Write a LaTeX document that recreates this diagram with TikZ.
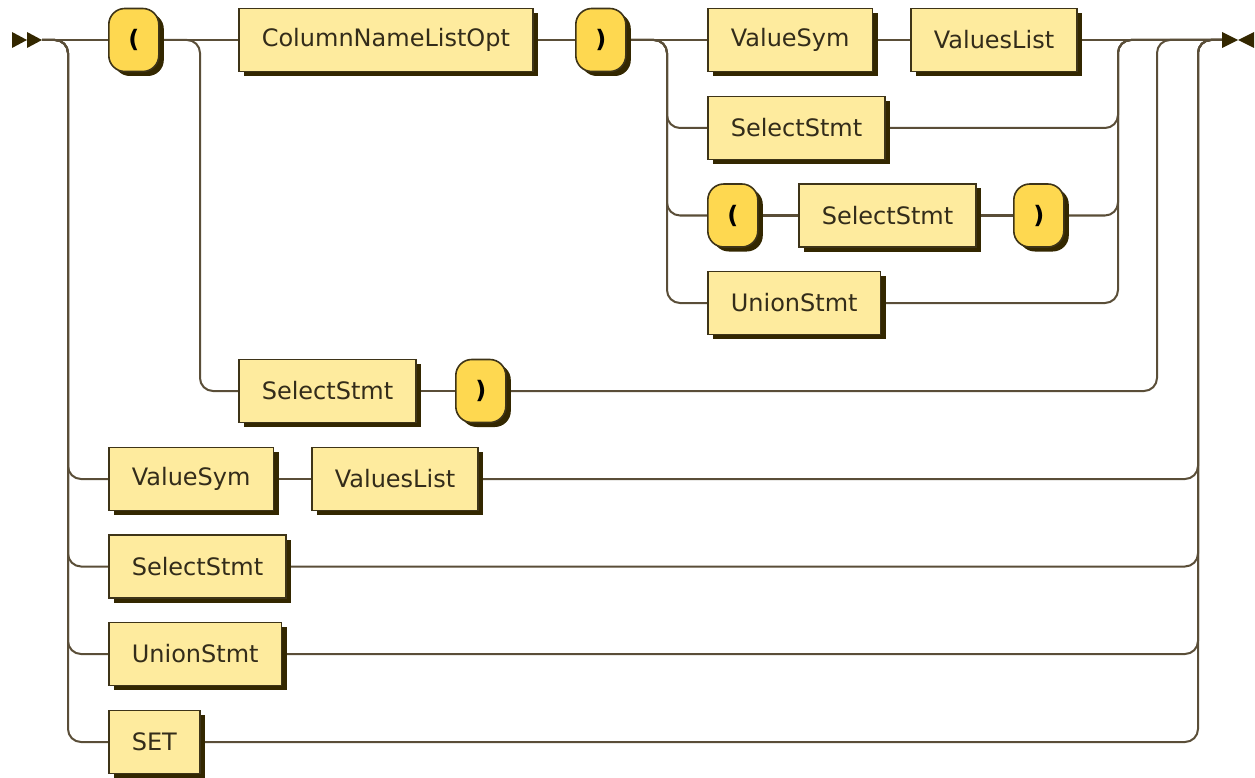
\documentclass[tikz,border=0pt]{standalone}
\usepackage{fontspec}
\setmainfont{DejaVu Sans}
\usetikzlibrary{shadows,backgrounds}
\definecolor{ntfill}{HTML}{FEEB9E}
\definecolor{tfill}{HTML}{FED850}
\definecolor{boxline}{HTML}{3E3418}
\definecolor{shadowc}{HTML}{332700}
\definecolor{wire}{HTML}{5A4E38}
\definecolor{txt}{HTML}{332C1A}
\tikzset{
  nonterm/.style={draw=boxline, fill=ntfill, line width=1.6pt, anchor=west,
    minimum height=63pt, inner xsep=23pt, text=txt,
    font=\fontsize{24}{28}\selectfont,
    drop shadow={shadow xshift=5pt, shadow yshift=-4.5pt, fill=shadowc, opacity=1}},
  term/.style={draw=boxline, fill=tfill, line width=1.6pt, anchor=west,
    minimum height=63pt, minimum width=50pt, inner xsep=0pt, rounded corners=16pt,
    text=black, font=\fontsize{24}{28}\selectfont\bfseries,
    drop shadow={shadow xshift=5pt, shadow yshift=-4.5pt, fill=shadowc, opacity=1}},
  wirestyle/.style={draw=wire, line width=2pt, rounded corners=13pt},
  marker/.style={fill=shadowc, draw=none}
}
\begin{document}
\begin{tikzpicture}[x=1pt,y=-1pt]
\useasboundingbox (0,0) rectangle (1255,778);
% nodes
\node[term]    (lp1) at (108,40)    {(};
\node[nonterm] (cnl) at (238,40)    {ColumnNameListOpt};
\node[term]    (rp1) at (575,40)    {)};
\node[nonterm] (vs1) at (707,40)    {ValueSym};
\node[nonterm] (vl1) at (910,40)    {ValuesList};
\node[nonterm] (ss1) at (707,128)   {SelectStmt};
\node[term]    (lp2) at (707,215.5) {(};
\node[nonterm] (ss2) at (798,215.5) {SelectStmt};
\node[term]    (rp2) at (1013,215.5){)};
\node[nonterm] (us1) at (707,303)   {UnionStmt};
\node[nonterm] (ss3) at (238,391)   {SelectStmt};
\node[term]    (rp3) at (455,391)   {)};
\node[nonterm] (vs2) at (108,479)   {ValueSym};
\node[nonterm] (vl2) at (311,479)   {ValuesList};
\node[nonterm] (ss4) at (108,566.5) {SelectStmt};
\node[nonterm] (us2) at (108,654)   {UnionStmt};
\node[nonterm] (set) at (108,742)   {SET};
% start / end points and junctions
\coordinate (s) at (42,40);
\coordinate (e) at (1222,40);
\coordinate (ja) at (68,40);
\coordinate (jb) at (200,40);
\coordinate (jc) at (667,40);
\coordinate (kc) at (1118,40);
\coordinate (kb) at (1157,40);
\coordinate (ka) at (1198,40);
% markers
\fill[marker] (12,32) -- (27,40) -- (12,48) -- cycle;
\fill[marker] (27,32) -- (42,40) -- (27,48) -- cycle;
\fill[marker] (1222,32) -- (1238,40) -- (1222,48) -- cycle;
\fill[marker] (1254,32) -- (1238,40) -- (1254,48) -- cycle;
\begin{pgfonlayer}{background}
% main line
\draw[wirestyle] (s) -- (lp1.west);
\draw[wirestyle] (lp1.east) -- (cnl.west);
\draw[wirestyle] (cnl.east) -- (rp1.west);
\draw[wirestyle] (rp1.east) -- (vs1.west);
\draw[wirestyle] (vs1.east) -- (vl1.west);
\draw[wirestyle] (vl1.east) -- (e);
% inner choice after ")"
\foreach \n in {ss1,lp2,us1}{
  \draw[wirestyle] (rp1.east) -- (jc) -- (jc |- \n.west) -- (\n.west);
}
\draw[wirestyle] (lp2.east) -- (ss2.west);
\draw[wirestyle] (ss2.east) -- (rp2.west);
\foreach \n in {ss1,rp2,us1}{
  \draw[wirestyle] (\n.east) -- (kc |- \n.east) -- (kc) -- (e);
}
% SelectStmt ) branch
\draw[wirestyle] (lp1.east) -- (jb) -- (jb |- ss3.west) -- (ss3.west);
\draw[wirestyle] (ss3.east) -- (rp3.west);
\draw[wirestyle] (rp3.east) -- (kb |- rp3.east) -- (kb) -- (e);
% outer alternatives
\foreach \n in {vs2,ss4,us2,set}{
  \draw[wirestyle] (s) -- (ja) -- (ja |- \n.west) -- (\n.west);
}
\draw[wirestyle] (vs2.east) -- (vl2.west);
\foreach \n in {vl2,ss4,us2,set}{
  \draw[wirestyle] (\n.east) -- (ka |- \n.east) -- (ka) -- (e);
}
\end{pgfonlayer}
\end{tikzpicture}
\end{document}
